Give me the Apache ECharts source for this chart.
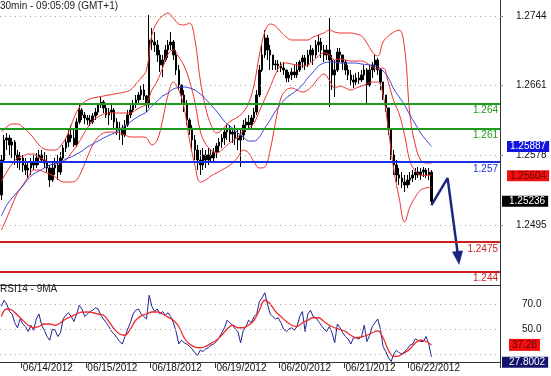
<!DOCTYPE html>
<html><head><meta charset="utf-8">
<script src="https://cdn.jsdelivr.net/npm/echarts@6/dist/echarts.min.js"></script>
<style>html,body{margin:0;padding:0;background:#fff}#c{width:551px;height:376px}</style>
</head><body><div id="c"></div>
<script>
// ---------- data ----------
const tradingDays = ['06/13/2012','06/14/2012','06/15/2012','06/18/2012','06/19/2012','06/20/2012','06/21/2012','06/22/2012','06/25/2012'];
const firstHour = 16;      // first slot = 06/13 16:00, one slot per hour
const slotCount = 186;
const priceTicks = [1.2744, 1.2661, 1.2578, 1.2495];
const rsiTickLabels = [50, 70];
const rsiGridValues = [30, 50, 70];
const levelValues = [1.264, 1.261, 1.257, 1.2475, 1.244];
const priceTagValues = [1.25887, 1.25604, 1.25236];  // MA, band, last
const rsiTagValues = [37.28, 27.8002];               // RSI MA, RSI
// hourly bars: [open, close, low, high]
const ohlc = [
[1.25310,1.25726,1.25250,1.25786],[1.25726,1.25964,1.25702,1.26024],[1.25964,1.25988,1.25845,1.26047],[1.25988,1.25905,1.25786,1.26024],
[1.25905,1.25940,1.25750,1.25988],[1.25940,1.25786,1.25667,1.25964],[1.25786,1.25726,1.25631,1.25845],[1.25726,1.25750,1.25607,1.25821],
[1.25750,1.25667,1.25583,1.25786],[1.25667,1.25607,1.25548,1.25750],[1.25607,1.25631,1.25512,1.25702],[1.25631,1.25702,1.25548,1.25750],
[1.25702,1.25667,1.25607,1.25786],[1.25667,1.25750,1.25631,1.25809],[1.25750,1.25786,1.25667,1.25845],[1.25786,1.25726,1.25690,1.25845],
[1.25726,1.25690,1.25631,1.25821],[1.25690,1.25631,1.25583,1.25786],[1.25631,1.25488,1.25405,1.25667],[1.25488,1.25631,1.25464,1.25702],
[1.25631,1.25667,1.25548,1.25750],[1.25667,1.25583,1.25488,1.25786],[1.25583,1.25750,1.25548,1.25821],[1.25750,1.25869,1.25726,1.25905],
[1.25869,1.25940,1.25821,1.25988],[1.25940,1.26024,1.25881,1.26083],[1.26024,1.25988,1.25940,1.26143],[1.25988,1.25905,1.25881,1.26083],
[1.25905,1.26178,1.25881,1.26226],[1.26178,1.26321,1.26154,1.26381],[1.26321,1.26262,1.26202,1.26345],[1.26262,1.26226,1.26154,1.26297],
[1.26226,1.26202,1.26143,1.26262],[1.26202,1.26178,1.26131,1.26262],[1.26178,1.26250,1.26154,1.26285],[1.26250,1.26297,1.26202,1.26345],
[1.26297,1.26381,1.26262,1.26404],[1.26381,1.26416,1.26345,1.26476],[1.26416,1.26345,1.26285,1.26440],[1.26345,1.26262,1.26226,1.26381],
[1.26262,1.26297,1.26143,1.26345],[1.26297,1.26321,1.26202,1.26381],[1.26321,1.26178,1.26107,1.26345],[1.26178,1.26083,1.26024,1.26226],
[1.26083,1.26107,1.25964,1.26178],[1.26107,1.26024,1.25905,1.26143],[1.26024,1.26143,1.26000,1.26202],[1.26143,1.26262,1.26119,1.26321],
[1.26262,1.26321,1.26226,1.26381],[1.26321,1.26392,1.26297,1.26440],[1.26392,1.26440,1.26345,1.26500],[1.26440,1.26500,1.26381,1.26535],
[1.26500,1.26559,1.26440,1.26619],[1.26559,1.26488,1.26440,1.26630],[1.26488,1.26381,1.26297,1.26500],[1.26381,1.27154,1.26345,1.27452],
[1.27154,1.27130,1.27035,1.27297],[1.27130,1.27095,1.27011,1.27249],[1.27095,1.26976,1.26892,1.27154],[1.26976,1.26857,1.26773,1.27035],
[1.26857,1.26916,1.26714,1.26976],[1.26916,1.27035,1.26892,1.27095],[1.27035,1.27095,1.26940,1.27154],[1.27095,1.27130,1.27035,1.27249],
[1.27130,1.26976,1.26916,1.27154],[1.26976,1.26797,1.26738,1.27035],[1.26797,1.26619,1.26559,1.26857],[1.26619,1.26500,1.26381,1.26619],
[1.26500,1.26381,1.26297,1.26559],[1.26381,1.26202,1.26143,1.26440],[1.26202,1.26107,1.26024,1.26226],[1.26107,1.25964,1.25845,1.26143],
[1.25964,1.25845,1.25726,1.26024],[1.25845,1.25726,1.25607,1.25905],[1.25726,1.25667,1.25548,1.25845],[1.25667,1.25786,1.25607,1.25869],
[1.25786,1.25726,1.25631,1.25845],[1.25726,1.25786,1.25667,1.25869],[1.25786,1.25750,1.25690,1.25845],[1.25750,1.25821,1.25702,1.25869],
[1.25821,1.25893,1.25750,1.25928],[1.25893,1.25940,1.25821,1.25988],[1.25940,1.25988,1.25869,1.26035],[1.25988,1.26059,1.25905,1.26107],
[1.26059,1.26083,1.25964,1.26143],[1.26083,1.26035,1.25940,1.26143],[1.26035,1.26059,1.25928,1.26107],[1.26059,1.25988,1.25905,1.26143],
[1.25988,1.25964,1.25845,1.26107],[1.25964,1.26024,1.25643,1.26083],[1.26024,1.26143,1.25964,1.26202],[1.26143,1.26178,1.26059,1.26226],
[1.26178,1.26143,1.26083,1.26262],[1.26143,1.26226,1.26107,1.26262],[1.26226,1.26297,1.26178,1.26345],[1.26297,1.26500,1.26262,1.26559],
[1.26500,1.26797,1.26476,1.26857],[1.26797,1.26976,1.26773,1.27095],[1.26976,1.27178,1.26940,1.27273],[1.27178,1.27035,1.26916,1.27214],
[1.27035,1.26976,1.26797,1.27095],[1.26976,1.26857,1.26797,1.26976],[1.26857,1.26868,1.26797,1.26916],[1.26868,1.26845,1.26773,1.26916],
[1.26845,1.26821,1.26773,1.26892],[1.26821,1.26797,1.26738,1.26892],[1.26797,1.26702,1.26654,1.26797],[1.26702,1.26738,1.26654,1.26773],
[1.26738,1.26773,1.26678,1.26821],[1.26773,1.26738,1.26702,1.26857],[1.26738,1.26797,1.26702,1.26892],[1.26797,1.26892,1.26773,1.26916],
[1.26892,1.26940,1.26821,1.26976],[1.26940,1.26857,1.26797,1.26976],[1.26857,1.26976,1.26833,1.27035],[1.26976,1.27035,1.26892,1.27095],
[1.27035,1.26976,1.26857,1.27059],[1.26976,1.27095,1.26940,1.27154],[1.27095,1.27130,1.27011,1.27214],[1.27130,1.27035,1.26940,1.27178],
[1.27035,1.26976,1.26892,1.27095],[1.26976,1.27035,1.26916,1.27095],[1.27035,1.26916,1.26357,1.27416],[1.26916,1.26738,1.26559,1.26976],
[1.26738,1.26797,1.26476,1.26916],[1.26797,1.27011,1.26773,1.27059],[1.27011,1.26976,1.26892,1.27059],[1.26976,1.26892,1.26797,1.26976],
[1.26892,1.26797,1.26738,1.26916],[1.26797,1.26738,1.26678,1.26857],[1.26738,1.26678,1.26619,1.26797],[1.26678,1.26654,1.26583,1.26738],
[1.26654,1.26702,1.26619,1.26761],[1.26702,1.26678,1.26630,1.26773],[1.26678,1.26738,1.26654,1.26797],[1.26738,1.26797,1.26678,1.26857],
[1.26797,1.26619,1.26404,1.26821],[1.26619,1.26797,1.26595,1.26857],[1.26797,1.26857,1.26702,1.26892],[1.26857,1.26916,1.26773,1.26976],
[1.26916,1.26797,1.26738,1.26940],[1.26797,1.26654,1.26559,1.26821],[1.26654,1.26500,1.26440,1.26654],[1.26500,1.26345,1.26297,1.26500],
[1.26345,1.26083,1.26024,1.26345],[1.26083,1.25786,1.25726,1.26083],[1.25786,1.25667,1.25548,1.25845],[1.25667,1.25548,1.25464,1.25726],
[1.25548,1.25512,1.25429,1.25631],[1.25512,1.25464,1.25393,1.25583],[1.25464,1.25429,1.25345,1.25548],[1.25429,1.25488,1.25393,1.25548],
[1.25488,1.25512,1.25429,1.25583],[1.25512,1.25548,1.25464,1.25607],[1.25548,1.25583,1.25488,1.25631],[1.25583,1.25548,1.25512,1.25643],
[1.25548,1.25583,1.25488,1.25631],[1.25583,1.25607,1.25524,1.25643],[1.25607,1.25548,1.25512,1.25631],[1.25548,1.25583,1.25488,1.25631],
[1.25583,1.25236,1.25190,1.25607]
];
// indicator lines, one reading every 2 hours
const bbUpper = [1.26059,1.26119,1.26154,1.26154,1.26119,1.26059,1.25988,1.25905,1.25857,1.25845,
1.25845,1.25893,1.25988,1.26143,1.26297,1.26392,1.26440,1.26464,1.26476,1.26488,
1.26500,1.26511,1.26523,1.26535,1.26559,1.26630,1.26702,1.26797,1.27214,1.27368,
1.27440,1.27475,1.27416,1.27344,1.27333,1.27356,1.27154,1.26678,1.26345,1.26143,
1.26047,1.26083,1.26154,1.26202,1.26238,1.26297,1.26404,1.26619,1.26976,1.27249,
1.27344,1.27321,1.27249,1.27190,1.27154,1.27154,1.27154,1.27154,1.27190,1.27214,
1.27237,1.27273,1.27249,1.27237,1.27237,1.27237,1.27225,1.27202,1.27118,1.27011,
1.26964,1.27130,1.27202,1.27249,1.27273,1.27059,1.26262,1.25905,1.25726,1.25690,1.25690];
const bbMiddle = [1.25476,1.25583,1.25678,1.25750,1.25774,1.25797,1.25797,1.25762,1.25726,1.25702,
1.25690,1.25690,1.25726,1.25809,1.25893,1.26000,1.26107,1.26190,1.26238,1.26273,
1.26285,1.26285,1.26285,1.26285,1.26285,1.26321,1.26357,1.26392,1.26559,1.26666,
1.26821,1.26987,1.27035,1.26952,1.26845,1.26666,1.26416,1.26071,1.25916,1.25845,
1.25809,1.25845,1.25905,1.25952,1.26000,1.26071,1.26107,1.26166,1.26309,1.26452,
1.26595,1.26749,1.26857,1.26880,1.26868,1.26857,1.26845,1.26857,1.26904,1.26964,
1.26999,1.26976,1.26916,1.26928,1.26916,1.26904,1.26904,1.26904,1.26880,1.26833,
1.26809,1.26821,1.26642,1.26428,1.26273,1.26024,1.25714,1.25595,1.25548,1.25542,1.25548];
const bbLower = [1.24893,1.25036,1.25190,1.25333,1.25429,1.25524,1.25607,1.25607,1.25583,1.25559,
1.25524,1.25476,1.25464,1.25464,1.25488,1.25607,1.25762,1.25905,1.26000,1.26047,
1.26059,1.26059,1.26047,1.26024,1.26000,1.26000,1.26000,1.25988,1.25905,1.25964,
1.26202,1.26500,1.26654,1.26559,1.26345,1.25964,1.25667,1.25464,1.25488,1.25536,
1.25571,1.25607,1.25643,1.25690,1.25762,1.25845,1.25809,1.25702,1.25631,1.25643,
1.25845,1.26178,1.26464,1.26559,1.26583,1.26559,1.26535,1.26559,1.26619,1.26702,
1.26749,1.26678,1.26583,1.26607,1.26583,1.26559,1.26583,1.26607,1.26630,1.26654,
1.26654,1.26500,1.26083,1.25607,1.25274,1.24988,1.25167,1.25286,1.25369,1.25393,1.25405];
const maLine = [1.25060,1.25190,1.25274,1.25345,1.25417,1.25500,1.25559,1.25595,1.25631,1.25667,
1.25678,1.25702,1.25738,1.25762,1.25797,1.25833,1.25881,1.25916,1.25952,1.25988,
1.26018,1.26047,1.26083,1.26131,1.26178,1.26226,1.26262,1.26297,1.26369,1.26428,
1.26488,1.26523,1.26571,1.26589,1.26595,1.26583,1.26559,1.26511,1.26452,1.26381,
1.26309,1.26226,1.26154,1.26107,1.26047,1.26000,1.25952,1.25952,1.26000,1.26107,
1.26202,1.26309,1.26392,1.26464,1.26511,1.26559,1.26619,1.26702,1.26773,1.26845,
1.26880,1.26892,1.26892,1.26880,1.26880,1.26880,1.26880,1.26868,1.26862,1.26850,
1.26833,1.26785,1.26702,1.26571,1.26476,1.26381,1.26262,1.26154,1.26047,1.25964,1.25887];
// RSI14 hourly and its 9MA every 2 hours
const rsi = [68,73,70,64,62,55,51,58,54,52,48,53,49,58,62,53,49,44,41,50,
49,44,47,58,61,63,60,56,62,69,66,60,62,64,65,67,66,61,58,55,
52,48,46,43,40,38,44,50,55,62,65,66,62,60,58,77,68,64,66,62,
64,61,63,60,55,48,38,41,39,38,36,34,31,29,33,32,34,35,37,38,
40,43,47,51,57,55,53,50,48,39,49,52,57,55,60,62,72,75,79,70,
62,60,58,59,55,50,48,50,51,49,52,60,64,48,62,65,60,59,56,53,
50,48,52,47,39,54,51,47,44,42,38,43,43,42,44,53,40,45,52,55,
58,50,36,32,27,24,30,33,31,30,32,34,37,38,42,41,40,40,44,38,27.8002];
const rsiMa = [60,66,65,61,57,53,51,52,54,54,53,55,58,60,62,63.5,63.6,63,62,61,
56,50,46,45,50,57,60.5,62,63.6,63.6,62,59.5,57,52,43,38,35.5,35,36,38.5,
41,45,50,53,51,51,53,57,65,73,70,64,60,56,53,52,55,57,59,59,
56,53,51,49.5,48,45,43,43.6,45,47,48.5,43,33,28,28.5,31,34,38.8,41,40,37.28];
// projected path: [slot, price]
const projection = [[160,1.25190],[166,1.25510],[170,1.24560]];

// ---------- build ----------
const FONT = 'Liberation Sans, Arial, sans-serif';
const cats = [];
for (let s = 0; s < slotCount; s++) {
  const h = firstHour + s;
  cats.push(tradingDays[Math.floor(h / 24)] + ' ' + String(h % 24).padStart(2, '0') + ':00');
}
const isDayStart = (idx) => (firstHour + idx) % 24 === 0 && idx < ohlc.length;
const every2h = arr => arr.map((v, k) => [k * 2, v]);
const levelColors = ['#1f991f', '#1f991f', '#1c2fe0', '#cc2020', '#cc2020'];
const dotted = {type: [1, 4], color: '#a8a8a8', width: 1};
const ML = {silent: true, precision: 6, symbol: ['none', 'none'], animation: false};

const priceMarks = priceTicks.map(v => ({yAxis: v, lineStyle: dotted, label: {show: false}}))
  .concat(levelValues.map((v, i) => ({
    yAxis: v, lineStyle: {color: levelColors[i], width: 2, type: 'solid'},
    label: {show: true, position: 'insideEndBottom', formatter: String(v), color: levelColors[i],
            fontSize: 10, fontFamily: FONT, distance: 2}
  })));

function tag(value, bg, fg, extra) {
  return {
    yAxis: value, lineStyle: {color: 'rgba(0,0,0,0)', width: 0},
    label: Object.assign({show: true, position: 'end', formatter: String(value), backgroundColor: bg,
      color: fg, opacity: 1, fontSize: 10, fontFamily: FONT, padding: [1, 3, 0, 3], distance: 7}, extra || {})
  };
}

const option = {
  animation: false,
  backgroundColor: '#fff',
  title: [
    {text: '30min - 09:05:09 (GMT+1)', left: 0, top: 1, padding: 0, textStyle: {fontSize: 10, fontWeight: 'normal', color: '#222', fontFamily: FONT}},
    {text: 'RSI14 - 9MA', left: 0, top: 284, padding: 0, textStyle: {fontSize: 10, fontWeight: 'normal', color: '#222', fontFamily: FONT}}
  ],
  grid: [
    {left: 0, top: 0, width: 500, height: 285},
    {left: 0, top: 285, width: 500, height: 77}
  ],
  xAxis: [
    {type: 'category', gridIndex: 0, data: cats, boundaryGap: true,
     axisLine: {show: true, lineStyle: {color: '#333', width: 1}}, axisTick: {show: false},
     axisLabel: {show: false}, splitLine: {show: false}},
    {type: 'category', gridIndex: 1, data: cats, boundaryGap: true,
     axisLine: {show: true, lineStyle: {color: '#333', width: 1}},
     axisTick: {show: true, interval: isDayStart, length: 6, lineStyle: {color: '#333'}},
     axisLabel: {show: true, interval: isDayStart, formatter: v => v.split(' ')[0], align: 'left',
                 margin: 1, fontSize: 10, color: '#111', fontFamily: FONT},
     splitLine: {show: false}}
  ],
  yAxis: [
    {type: 'value', gridIndex: 0, position: 'right', min: 1.24239, max: 1.2763, scale: true,
     splitLine: {show: false}, axisLine: {show: true, lineStyle: {color: '#333'}},
     axisTick: {show: true, customValues: priceTicks, length: 3, lineStyle: {color: '#888'}},
     axisLabel: {show: true, customValues: priceTicks, formatter: v => v.toFixed(4), margin: 16,
                 fontSize: 10, color: '#111', fontFamily: FONT}},
    {type: 'value', gridIndex: 1, position: 'right', min: 23.6, max: 85.2,
     splitLine: {show: false}, axisLine: {show: true, lineStyle: {color: '#333'}},
     axisTick: {show: false},
     axisLabel: {show: true, customValues: rsiTickLabels, formatter: v => v.toFixed(1), margin: 22,
                 fontSize: 10, color: '#111', fontFamily: FONT}}
  ],
  series: [
    {type: 'candlestick', xAxisIndex: 0, yAxisIndex: 0, data: ohlc, barWidth: 2, z: 2,
     itemStyle: {color: '#000', color0: '#000', borderColor: '#000', borderColor0: '#000', borderWidth: 1},
     markLine: Object.assign({}, ML, {data: priceMarks})},
    {type: 'line', name: 'upper', xAxisIndex: 0, yAxisIndex: 0, data: every2h(bbUpper), symbol: 'none', smooth: 0.4, z: 3,
     lineStyle: {color: '#ee3030', width: 1}},
    {type: 'line', name: 'middle', xAxisIndex: 0, yAxisIndex: 0, data: every2h(bbMiddle), symbol: 'none', smooth: 0.4, z: 3,
     lineStyle: {color: '#ee3030', width: 1},
     markLine: Object.assign({}, ML, {data: [tag(priceTagValues[1], '#f01010', '#6a0000', {verticalAlign: 'top'})]})},
    {type: 'line', name: 'lower', xAxisIndex: 0, yAxisIndex: 0, data: every2h(bbLower), symbol: 'none', smooth: 0.4, z: 3,
     lineStyle: {color: '#ee3030', width: 1}},
    {type: 'line', name: 'ma', xAxisIndex: 0, yAxisIndex: 0, data: every2h(maLine), symbol: 'none', smooth: 0.4, z: 3,
     lineStyle: {color: '#3a44d8', width: 1},
     markLine: Object.assign({}, ML, {data: [tag(priceTagValues[0], '#1414e0', '#fff')]})},
    {type: 'line', name: 'path', xAxisIndex: 0, yAxisIndex: 0, symbol: 'none', z: 4, data: projection,
     lineStyle: {color: '#1c2580', width: 2.5},
     markLine: Object.assign({}, ML, {data: [tag(priceTagValues[2], '#000', '#fff', {distance: 2, padding: [1, 3, 0, 7]})]})},
    {type: 'scatter', name: 'arrowhead', xAxisIndex: 0, yAxisIndex: 0, z: 5,
     data: [projection[projection.length - 1]], symbol: 'triangle', symbolSize: [11, 14], symbolRotate: 187,
     itemStyle: {color: '#1c2580', opacity: 1}},
    {type: 'line', name: 'rsi', xAxisIndex: 1, yAxisIndex: 1, data: rsi, symbol: 'none', z: 3,
     lineStyle: {color: '#1f238f', width: 1},
     markLine: Object.assign({}, ML, {
       data: rsiGridValues.map(v => ({yAxis: v, lineStyle: dotted, label: {show: false}}))
         .concat([tag(rsiTagValues[1], '#14146e', '#fff', {distance: 2, padding: [1, 3, 0, 7], verticalAlign: 'top'})])})},
    {type: 'line', name: 'rsiMa', xAxisIndex: 1, yAxisIndex: 1, data: every2h(rsiMa), symbol: 'none', smooth: 0.4, z: 4,
     lineStyle: {color: '#ee2a2a', width: 1.3},
     markLine: Object.assign({}, ML, {data: [tag(rsiTagValues[0], '#f01010', '#6a0000', {distance: 9, padding: [2, 3, 0, 3]})]})}
  ]
};
const chart = echarts.init(document.getElementById('c'));
chart.setOption(option);
</script>
</body></html>
